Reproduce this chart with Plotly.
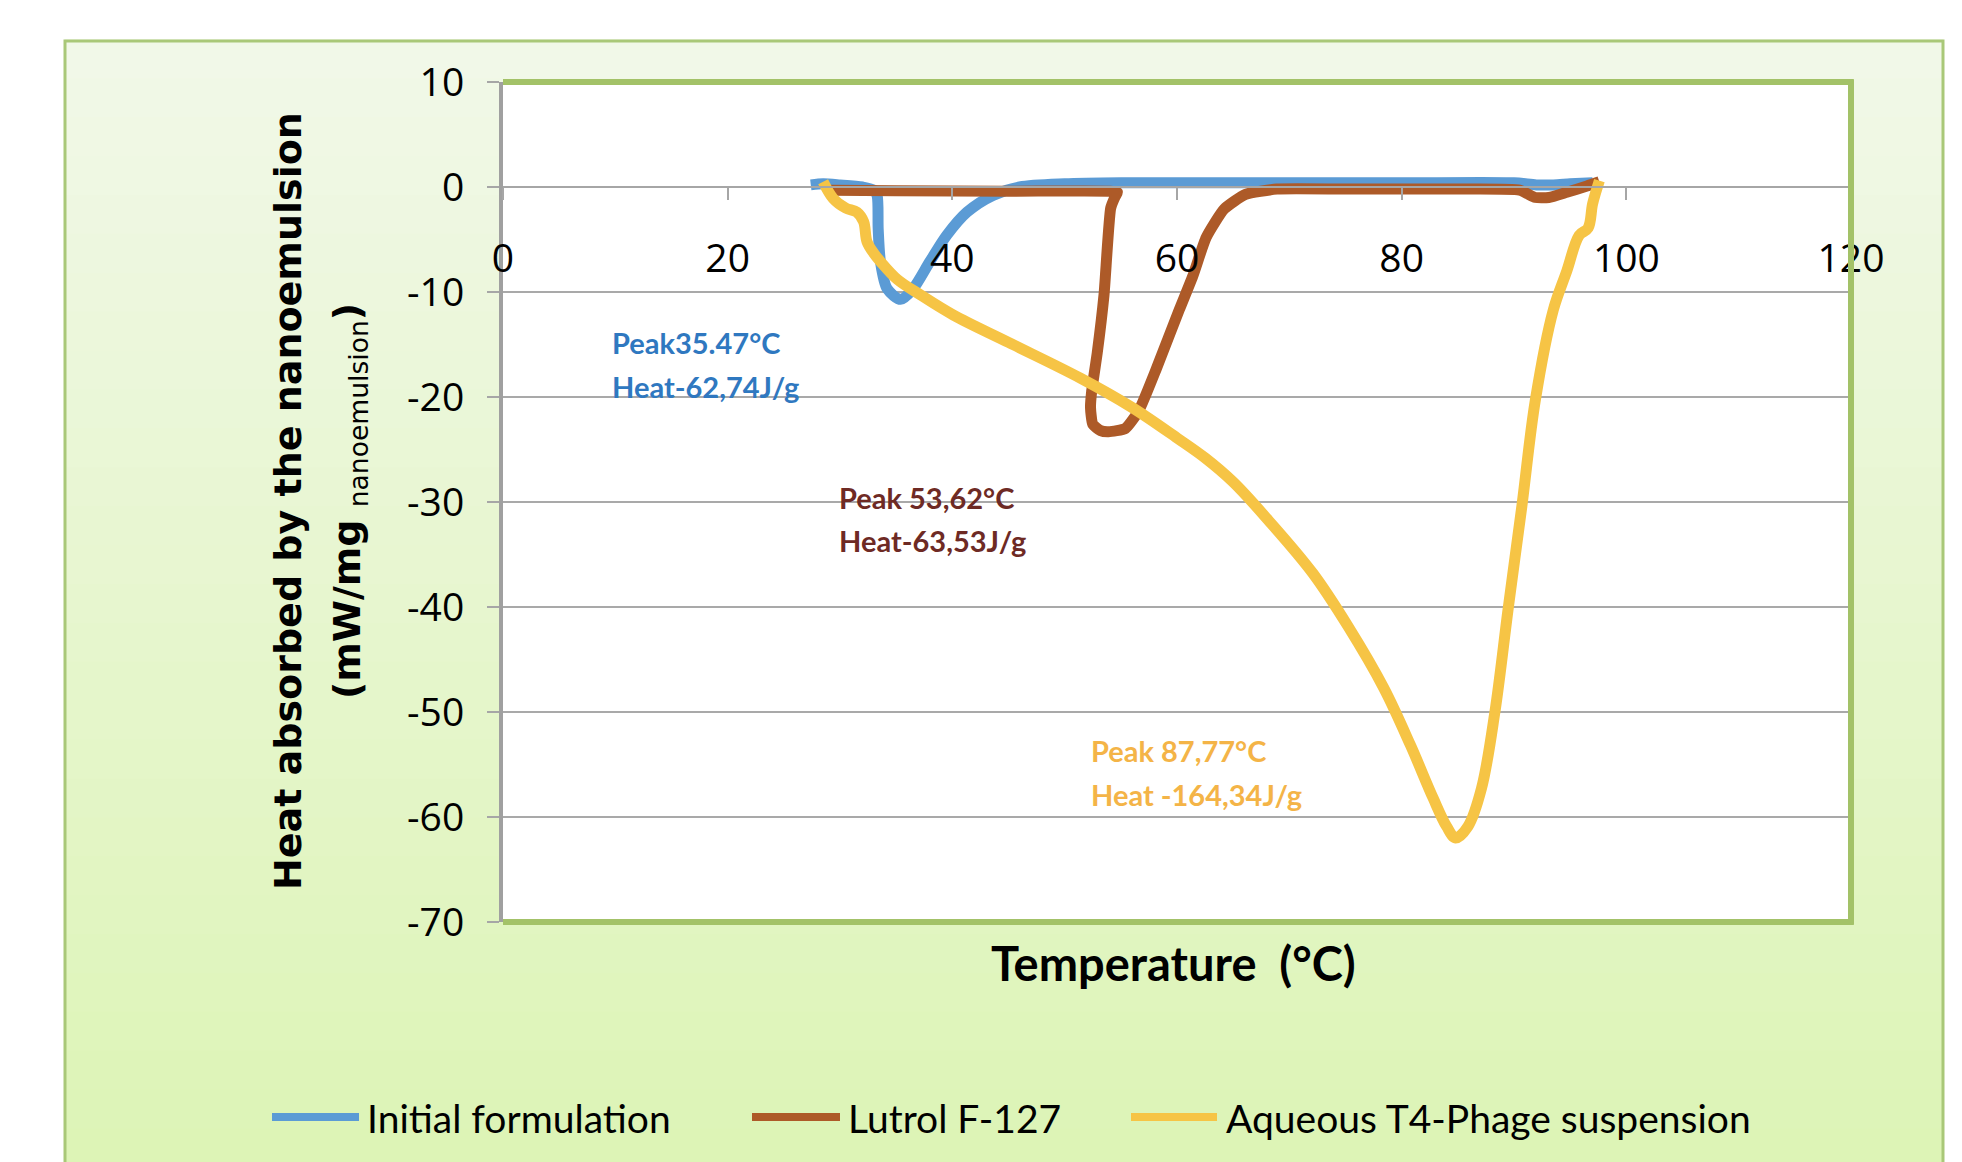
import plotly.graph_objects as go

# ---------------- data ----------------
init_T = [27.4, 28.5, 30.0, 32.0, 33.0, 33.3, 33.4, 33.6, 34.2, 35.4, 36.5, 38.0, 39.5,
          41.3, 43.6, 46.0, 50.0, 55.0, 60.0, 70.0, 80.0, 90.0, 92.0, 93.5, 95.0, 97.0]
init_V = [0.2, 0.3, 0.2, 0.0, -0.3, -0.8, -4.0, -7.1, -9.7, -10.7, -9.7, -7.1, -4.6,
          -2.4, -0.8, 0.0, 0.3, 0.4, 0.4, 0.4, 0.4, 0.4, 0.2, 0.2, 0.3, 0.4]

lutrol_T = [29.2, 35.0, 45.0, 54.0, 54.7, 54.5, 54.1, 53.5, 52.9, 52.4, 52.3, 52.5, 53.2,
            53.9, 55.4, 56.6, 58.2, 60.2, 61.4, 62.6, 64.2, 66.1, 68.9, 75.0, 85.0, 90.5,
            91.9, 93.1, 94.7, 96.5, 97.6]
lutrol_V = [-0.3, -0.35, -0.4, -0.4, -0.5, -0.9, -2.0, -10.3, -15.8, -19.5, -21.0, -22.6, -23.2,
            -23.3, -23.0, -21.3, -17.2, -11.7, -8.5, -4.8, -2.1, -0.7, -0.2, -0.2, -0.2, -0.3,
            -1.0, -1.0, -0.5, 0.1, 0.5]

phage_T = [28.5, 29.4, 30.5, 31.5, 32.1, 32.4, 33.0, 33.6, 35.1, 37.2, 40.1, 45.0, 51.4,
           56.0, 60.0, 62.5, 65.0, 68.1, 72.1, 75.2, 78.4, 80.8, 82.8, 84.0, 84.8, 85.9,
           87.1, 88.3, 89.5, 90.7, 91.9, 93.5, 94.7, 95.8, 96.6, 97.0, 97.6]
phage_V = [0.5, -1.1, -2.0, -2.4, -3.3, -5.2, -6.3, -7.1, -8.8, -10.3, -12.2, -14.8, -18.2,
           -21.0, -23.9, -25.8, -28.1, -31.7, -36.8, -41.8, -47.7, -53.2, -58.2, -60.9, -62.0, -60.9,
           -57.3, -50.0, -40.0, -30.4, -20.3, -11.7, -8.0, -4.6, -3.9, -1.6, 0.6]

series_names = ["Initial formulation", "Lutrol F-127", "Aqueous T4-Phage suspension"]
series_colors = ["#5b9bd5", "#ad5a28", "#f6c445"]
series_smoothing = [0.8, 0.5, 1.0]

x_tick_vals = [0, 20, 40, 60, 80, 100, 120]
x_tick_text = ["0", "20", "40", "60", "80", "100", "120"]
y_tick_vals = [10, 0, -10, -20, -30, -40, -50, -60, -70]
y_tick_text = ["10", "0", "-10", "-20", "-30", "-40", "-50", "-60", "-70"]

# peak labels: (x, y of line 1, y of line 2, line1, line2, colour)
peak_labels = [
    (9.5, -14.8, -19.0, "Peak35.47°C", "Heat-62,74J/g", "#2f78c0"),
    (29.7, -29.6, -33.7, "Peak 53,62°C", "Heat-63,53J/g", "#6e2a24"),
    (52.2, -53.7, -57.9, "Peak 87,77°C", "Heat -164,34J/g", "#f4b447"),
]

# ---------------- figure ----------------
W, H = 1962, 1162
L, R, T, B = 495, 1843, 74, 914
PW, PH = R - L, B - T


def px(xp):
    return (xp - L) / PW


def py(yp):
    return (B - yp) / PH


fig = go.Figure()
for name, tx, vy, col, sm in zip(series_names, [init_T, lutrol_T, phage_T],
                                 [init_V, lutrol_V, phage_V], series_colors, series_smoothing):
    fig.add_trace(go.Scatter(x=tx, y=vy, mode="lines", name=name,
                             line=dict(color=col, width=11, shape="spline", smoothing=sm),
                             showlegend=False))

shapes = []
# gradient background inside outer box
box_l, box_r, box_t, box_b = px(57), px(1935), py(33), py(1200)
top_c = (0xF1, 0xF8, 0xE8)
bot_c = (0xDC, 0xF4, 0xB4)
n = 30
for i in range(n):
    f = i / (n - 1)
    c = tuple(int(round(top_c[k] + (bot_c[k] - top_c[k]) * f)) for k in range(3))
    y0 = box_t - (box_t - box_b) * i / n
    y1 = box_t - (box_t - box_b) * (i + 1) / n
    shapes.append(dict(type="rect", xref="paper", yref="paper", x0=box_l, x1=box_r,
                       y0=y1, y1=y0 + 0.002, fillcolor="rgb(%d,%d,%d)" % c,
                       line=dict(width=0), layer="below"))
shapes.append(dict(type="rect", xref="paper", yref="paper", x0=box_l, x1=box_r,
                   y0=box_b, y1=box_t, fillcolor="rgba(0,0,0,0)",
                   line=dict(color="#a9c878", width=3), layer="below"))
shapes.append(dict(type="rect", xref="paper", yref="paper", x0=0, x1=1, y0=0, y1=1,
                   fillcolor="white", line=dict(width=0), layer="below"))
# green plot-area border (top, right, bottom)
gcol = "#a3c268"
shapes.append(dict(type="line", xref="paper", yref="paper", x0=0, x1=1.002, y0=1, y1=1,
                   line=dict(color=gcol, width=6), layer="above"))
shapes.append(dict(type="line", xref="paper", yref="paper", x0=1, x1=1, y0=-0.003, y1=1.003,
                   line=dict(color=gcol, width=6), layer="above"))
shapes.append(dict(type="line", xref="paper", yref="paper", x0=0, x1=1.002, y0=0, y1=0,
                   line=dict(color=gcol, width=6), layer="above"))

annotations = []
for (ax, ay1, ay2, t1, t2, col) in peak_labels:
    for ay, t in ((ay1, t1), (ay2, t2)):
        annotations.append(dict(x=ax, y=ay, xref="x", yref="y", text="<b>%s</b>" % t,
                                showarrow=False, xanchor="left", yanchor="middle",
                                font=dict(family="Lato", size=29, color=col)))

# axis titles
annotations.append(dict(x=px(280), y=py(493), xref="paper", yref="paper",
                        text="<b>Heat absorbed by the nanoemulsion</b>", textangle=-90,
                        showarrow=False, xanchor="center", yanchor="middle",
                        font=dict(family="DejaVu Sans", size=38, color="black")))
annotations.append(dict(x=px(341), y=py(493), xref="paper", yref="paper",
                        text="<b>(mW/mg</b> <sub>nanoemulsion</sub><b>)</b>", textangle=-90,
                        showarrow=False, xanchor="center", yanchor="middle",
                        font=dict(family="DejaVu Sans", size=38, color="black")))
annotations.append(dict(x=px(1165), y=py(955), xref="paper", yref="paper",
                        text="<b>Temperature  (°C)</b>", showarrow=False,
                        xanchor="center", yanchor="middle",
                        font=dict(family="Lato", size=47, color="black")))

# custom legend
leg_y = py(1109)
leg_lines = [(264, 351, 357), (744, 832, 838), (1123, 1209, 1216)]
for (x0, x1, xt), name, col in zip(leg_lines, series_names, series_colors):
    shapes.append(dict(type="line", xref="paper", yref="paper", x0=px(x0), x1=px(x1),
                       y0=leg_y, y1=leg_y, line=dict(color=col, width=8), layer="above"))
    annotations.append(dict(x=px(xt), y=py(1110), xref="paper", yref="paper", text=name,
                            showarrow=False, xanchor="left", yanchor="middle",
                            font=dict(family="Lato", size=39, color="black")))

fig.update_layout(
    width=W, height=H,
    margin=dict(l=L, r=W - R, t=T, b=H - B, pad=0),
    paper_bgcolor="white", plot_bgcolor="white",
    shapes=shapes, annotations=annotations, showlegend=False,
    xaxis=dict(range=[0, 120], tickvals=x_tick_vals, ticktext=x_tick_text,
               showgrid=False, zeroline=False, showline=True, linecolor="#a6a6a6", linewidth=2,
               ticks="outside", ticklen=12, tickwidth=2, tickcolor="#a6a6a6",
               anchor="free", position=(0 - (-70)) / 80, side="bottom",
               ticklabelstandoff=25,
               tickfont=dict(family="Open Sans", size=39, color="black")),
    yaxis=dict(range=[-70, 10], tickvals=y_tick_vals, ticktext=y_tick_text,
               showgrid=True, gridcolor="#a9a9a9", gridwidth=2, zeroline=False,
               showline=True, linecolor="#a0a0a0", linewidth=4,
               ticks="outside", ticklen=12, tickwidth=2, tickcolor="#a6a6a6",
               ticklabelstandoff=15,
               tickfont=dict(family="Open Sans", size=39, color="black")),
)

fig.write_html("out.html")
